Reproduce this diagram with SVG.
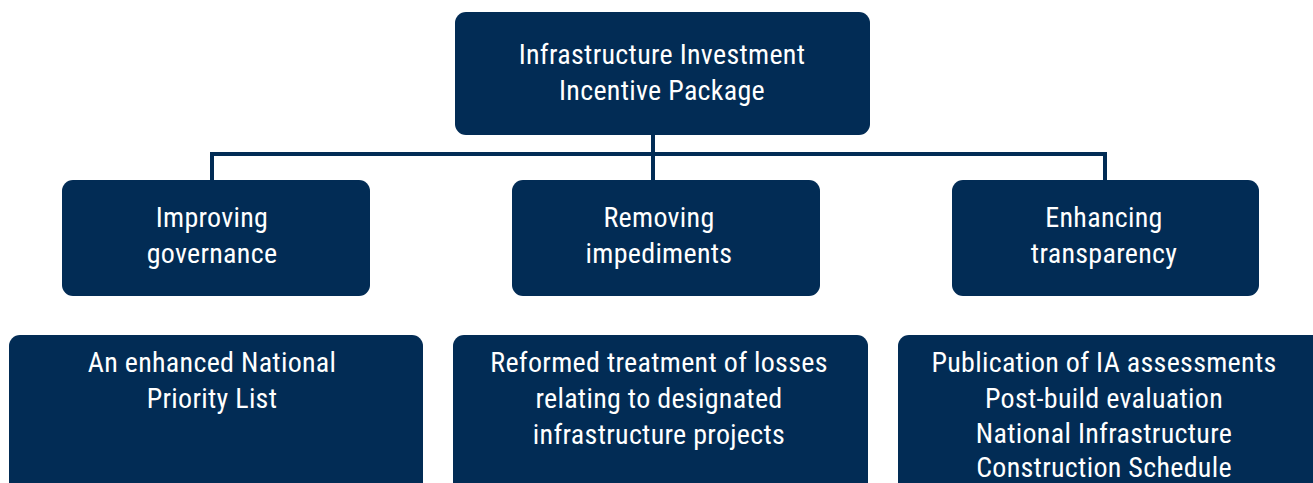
<svg xmlns="http://www.w3.org/2000/svg" width="1313" height="483" viewBox="0 0 1313 483">
<style>
.box{fill:#022c55}
.t{font-family:"Liberation Sans Narrow","Arial Narrow","Roboto Condensed","Liberation Sans",sans-serif;font-stretch:condensed;font-size:28px;letter-spacing:0.3px;fill:#ffffff;text-anchor:middle}
.c{stroke:#022c55;stroke-width:4;fill:none}
</style>
<rect width="1313" height="483" fill="#ffffff"/>
<g id="connectors">
<path class="c" d="M653 135V180M210 154H1107M212 152V180M1105 152V180"/>
</g>
<g id="top"><rect class="box" x="455" y="12" width="415" height="123" rx="11"/>
<text class="t" x="662" y="64">Infrastructure Investment</text><text class="t" x="662" y="100">Incentive Package</text></g>
<g id="gov"><rect class="box" x="62" y="180" width="308" height="116" rx="11"/>
<text class="t" x="212" y="227">Improving</text><text class="t" x="212" y="263">governance</text></g>
<g id="imp"><rect class="box" x="512" y="180" width="308" height="116" rx="11"/>
<text class="t" x="659" y="227">Removing</text><text class="t" x="659" y="263">impediments</text></g>
<g id="tra"><rect class="box" x="952" y="180" width="307" height="116" rx="11"/>
<text class="t" x="1104" y="227">Enhancing</text><text class="t" x="1104" y="263">transparency</text></g>
<g id="npl"><rect class="box" x="9" y="335" width="414" height="160" rx="11"/>
<text class="t" x="212" y="372">An enhanced National</text><text class="t" x="212" y="408">Priority List</text></g>
<g id="loss"><rect class="box" x="453" y="335" width="415" height="160" rx="11"/>
<text class="t" x="659" y="372">Reformed treatment of losses</text><text class="t" x="659" y="408">relating to designated</text><text class="t" x="659" y="444">infrastructure projects</text></g>
<g id="pub"><rect class="box" x="898" y="335" width="425" height="160" rx="11"/>
<text class="t" x="1104" y="372">Publication of IA assessments</text><text class="t" x="1104" y="408">Post-build evaluation</text><text class="t" x="1104" y="443">National Infrastructure</text><text class="t" x="1104" y="477">Construction Schedule</text></g>
</svg>
